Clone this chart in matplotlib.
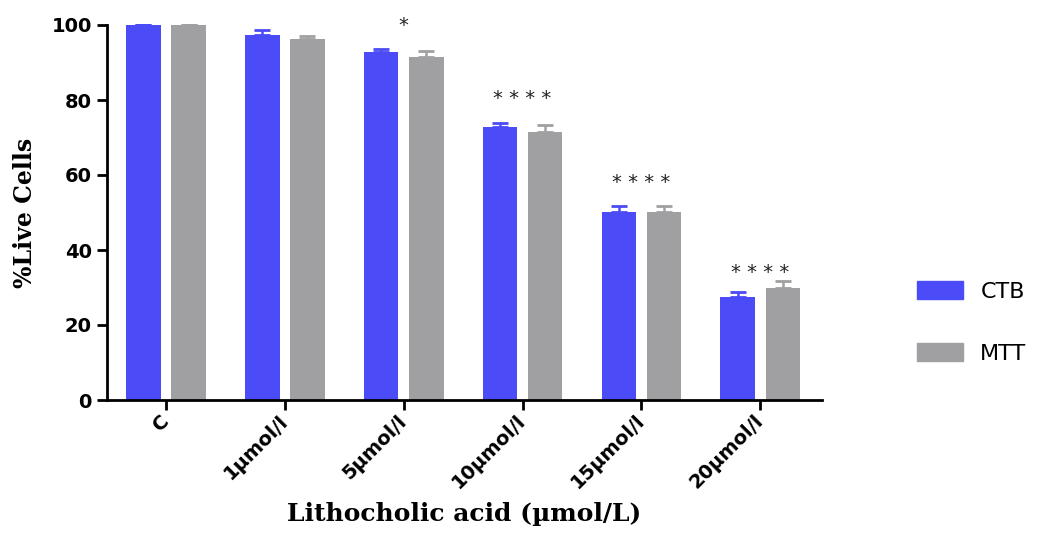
import matplotlib
matplotlib.use("Agg")
import matplotlib.pyplot as plt
import numpy as np
from matplotlib.patches import Patch

categories = ["C", "1µmol/l", "5µmol/l", "10µmol/l", "15µmol/l", "20µmol/l"]
ctb_mean = [100.0, 97.4, 92.9, 72.8, 50.2, 27.4]
ctb_err = [0.0, 1.3, 0.8, 1.0, 1.5, 1.3]
mtt_mean = [100.0, 96.3, 91.5, 71.4, 50.2, 30.0]
mtt_err = [0.0, 0.9, 1.6, 2.0, 1.5, 1.8]
sig_labels = ["", "", "*", "* * * *", "* * * *", "* * * *"]
sig_y = [None, None, 101.5, 82.0, 59.5, 35.5]
yticks = [0, 20, 40, 60, 80, 100]

blue = "#4B4BF7"
gray = "#A0A0A2"

fig = plt.figure(figsize=(10.4, 5.33), dpi=100)
ax = fig.add_axes([107/1040, 133/533, (822-107)/1040, 375/533])

x = np.arange(len(categories))
w = 0.29
off = 0.19
ax.bar(x - off, ctb_mean, w, color=blue, zorder=2, clip_on=False)
ax.bar(x + off, mtt_mean, w, color=gray, zorder=2, clip_on=False)
ax.errorbar(x - off, ctb_mean, yerr=[np.zeros(len(x)), ctb_err], fmt="none",
            ecolor=blue, elinewidth=1.8, capsize=5.5, capthick=2.0, zorder=3, clip_on=False)
ax.errorbar(x + off, mtt_mean, yerr=[np.zeros(len(x)), mtt_err], fmt="none",
            ecolor=gray, elinewidth=1.8, capsize=5.5, capthick=2.0, zorder=3, clip_on=False)

for xi, lab, yy in zip(x, sig_labels, sig_y):
    if lab and yy is not None:
        ax.text(xi, yy - 3.0, lab, ha="center", va="baseline", fontsize=14,
                family="DejaVu Sans", color="#222222", clip_on=False)

ax.set_xlim(-0.497, 5.52)
ax.set_ylim(0, 100)
ax.set_yticks(yticks)
ax.set_xticks(x)
ax.set_xticklabels(categories, rotation=45, ha="right", va="center",
                   rotation_mode="anchor", fontsize=14, fontweight="bold",
                   family="DejaVu Sans")
for t in ax.get_yticklabels():
    t.set_fontsize(14)
    t.set_fontweight("bold")
    t.set_family("DejaVu Sans")

for s in ["top", "right"]:
    ax.spines[s].set_visible(False)
for s in ["left", "bottom"]:
    ax.spines[s].set_linewidth(2.0)
ax.tick_params(axis="both", length=7, width=2.0, pad=4)
ax.tick_params(axis="x", pad=6)

ax.set_xlabel("Lithocholic acid (µmol/L)", fontsize=18, fontweight="bold",
              family="DejaVu Serif", labelpad=7)
ax.set_ylabel("%Live Cells", fontsize=17, fontweight="bold",
              family="DejaVu Serif", labelpad=10)

handles = [Patch(color=blue, label="CTB"), Patch(color=gray, label="MTT")]
leg = fig.legend(handles=handles, loc="upper left",
                 bbox_to_anchor=(917/1040, (533-281)/533),
                 bbox_transform=fig.transFigure, frameon=False,
                 handlelength=2.05, handleheight=0.9, labelspacing=1.85,
                 handletextpad=0.8, borderpad=0, borderaxespad=0,
                 prop={"family": "DejaVu Sans", "size": 16})

fig.savefig("out.png", dpi=100)
